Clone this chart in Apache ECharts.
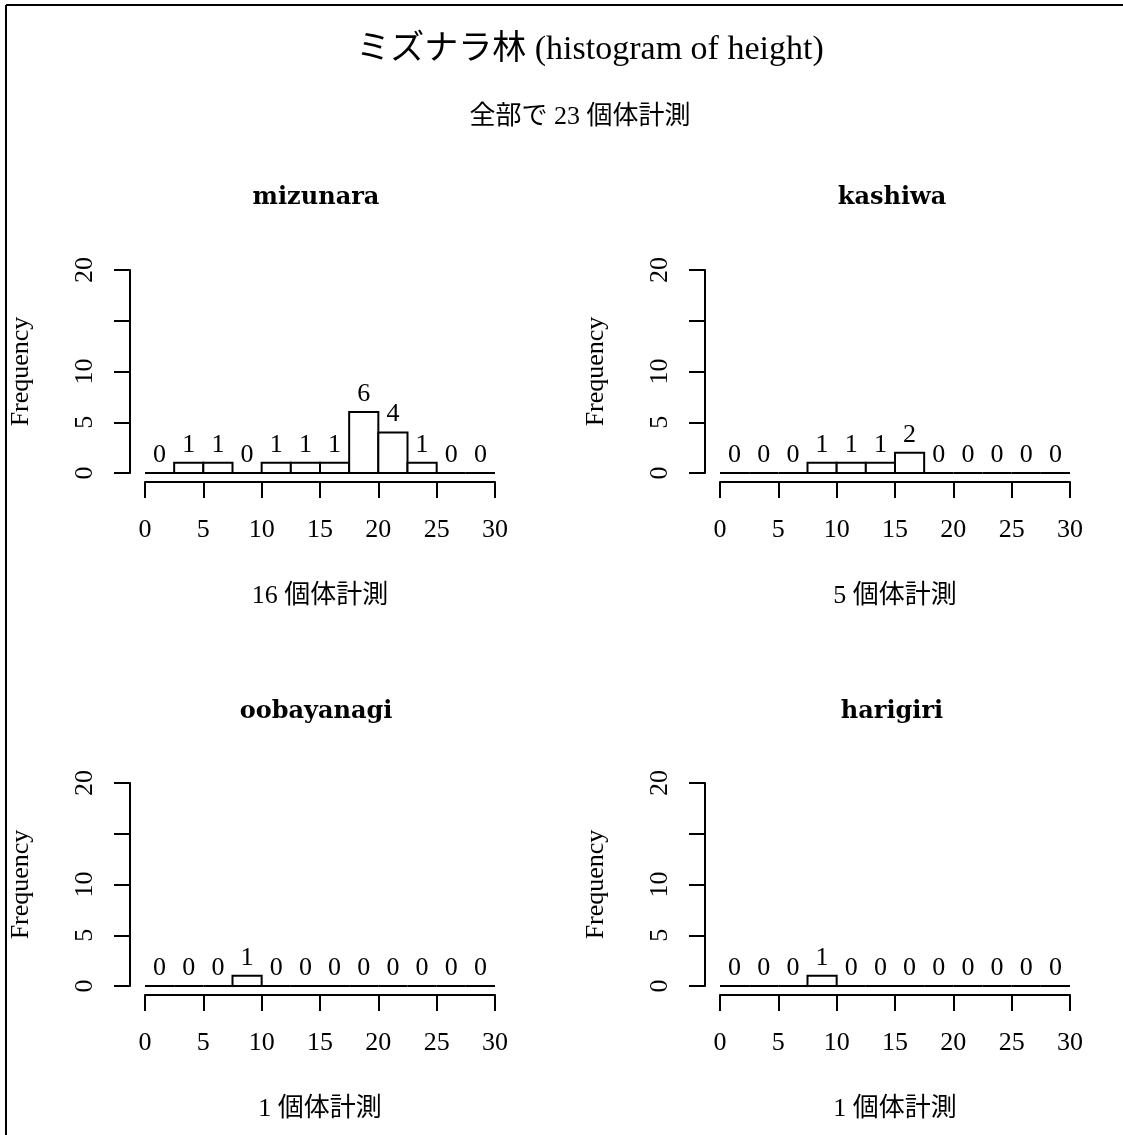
<!DOCTYPE html>
<html>
<head>
<meta charset="utf-8">
<script src="https://cdn.jsdelivr.net/npm/echarts@6/dist/echarts.min.js"></script>
<style>
html,body{margin:0;padding:0;background:#fff}
#main{width:1123px;height:1135px}
</style>
</head>
<body>
<div id="main"></div>
<script>
// histogram breaks (height, m)
var binEdges = [0, 2.5, 5, 7.5, 10, 12.5, 15, 17.5, 20, 22.5, 25, 27.5, 30];
var speciesNames = ['mizunara', 'kashiwa', 'oobayanagi', 'harigiri'];
var mizunaraCounts = [0, 1, 1, 0, 1, 1, 1, 6, 4, 1, 0, 0];
var kashiwaCounts = [0, 0, 0, 1, 1, 1, 2, 0, 0, 0, 0, 0];
var oobayanagiCounts = [0, 0, 0, 1, 0, 0, 0, 0, 0, 0, 0, 0];
var harigiriCounts = [0, 0, 0, 1, 0, 0, 0, 0, 0, 0, 0, 0];
// y tick labels that R actually printed (15 dropped for overlap)
var yLabelValues = [0, 5, 10, 20];
var totalCount = 23;
var mainTitle = 'ミズナラ林 (histogram of height)';

var serif = '"Liberation Serif", "Noto Sans CJK JP", serif';
var allCounts = [mizunaraCounts, kashiwaCounts, oobayanagiCounts, harigiriCounts];
// panel positions: [left, top] of the data area
var panelPos = [[145, 270], [720, 270], [145, 783], [720, 783]];
var titleCenter = [[316, 198], [892, 198], [316, 712], [892, 712]];

var chart = echarts.init(document.getElementById('main'));

function renderBin(params, api) {
    var p0 = api.coord([api.value(0), 0]);
    var p1 = api.coord([api.value(1), api.value(2)]);
    return {
        type: 'rect',
        shape: {x: p0[0], y: p1[1], width: p1[0] - p0[0], height: p0[1] - p1[1]},
        style: {fill: '#fff', stroke: '#000', lineWidth: 2},
        textContent: {
            style: {text: String(api.value(2)), font: '26px ' + serif, fill: '#000'}
        },
        textConfig: {position: 'top', distance: 4}
    };
}

function sum(arr) {
    var s = 0;
    for (var i = 0; i < arr.length; i++) s += arr[i];
    return s;
}

var grids = [], xAxes = [], yAxes = [], series = [];
var graphics = [
    {type: 'line', shape: {x1: 6, y1: 5, x2: 1123, y2: 5}, style: {stroke: '#000', lineWidth: 2}},
    {type: 'line', shape: {x1: 6, y1: 5, x2: 6, y2: 1135}, style: {stroke: '#000', lineWidth: 2}},
    {type: 'text', x: 590, y: 50, style: {text: mainTitle, font: '34px ' + serif, fill: '#000', align: 'center', verticalAlign: 'middle'}},
    {type: 'text', x: 580, y: 117, style: {text: '全部で ' + totalCount + ' 個体計測', font: '26px ' + serif, fill: '#000', align: 'center', verticalAlign: 'middle'}}
];

var lineStyle = {color: '#000', width: 2};
for (var i = 0; i < speciesNames.length; i++) {
    var counts = allCounts[i];
    var rows = [];
    for (var b = 0; b < counts.length; b++) {
        rows.push([binEdges[b], binEdges[b + 1], counts[b]]);
    }
    grids.push({left: panelPos[i][0], top: panelPos[i][1], width: 350, height: 203});
    xAxes.push({
        gridIndex: i, type: 'value', min: 0, max: 30, interval: 5, offset: 9,
        axisLine: {show: true, onZero: false, lineStyle: lineStyle},
        axisTick: {show: true, length: 16, lineStyle: lineStyle},
        axisLabel: {margin: 35, fontSize: 26, fontFamily: serif, color: '#000'},
        splitLine: {show: false},
        name: sum(counts) + ' 個体計測', nameLocation: 'middle', nameGap: 101,
        nameTextStyle: {fontSize: 26, fontFamily: serif, color: '#000'}
    });
    yAxes.push({
        gridIndex: i, type: 'value', min: 0, max: 20, interval: 5, offset: 15,
        axisLine: {show: true, onZero: false, lineStyle: lineStyle},
        axisTick: {show: true, length: 16, lineStyle: lineStyle},
        axisLabel: {
            margin: 32, rotate: 90, fontSize: 26, fontFamily: serif, color: '#000',
            formatter: function (v) { return yLabelValues.indexOf(v) >= 0 ? String(v) : ''; }
        },
        splitLine: {show: false},
        name: 'Frequency', nameLocation: 'middle', nameGap: 96, nameRotate: 90,
        nameTextStyle: {fontSize: 26, fontFamily: serif, color: '#000'}
    });
    series.push({
        type: 'custom', xAxisIndex: i, yAxisIndex: i, silent: true, clip: false,
        renderItem: renderBin, encode: {x: [0, 1], y: 2}, data: rows
    });
    graphics.push({
        type: 'text', x: titleCenter[i][0], y: titleCenter[i][1],
        style: {text: speciesNames[i], font: 'bold 24px "DejaVu Serif", serif', fill: '#000', align: 'center', verticalAlign: 'middle'}
    });
}

chart.setOption({
    backgroundColor: '#fff',
    animation: false,
    grid: grids,
    xAxis: xAxes,
    yAxis: yAxes,
    series: series,
    graphic: graphics
});
</script>
</body>
</html>
